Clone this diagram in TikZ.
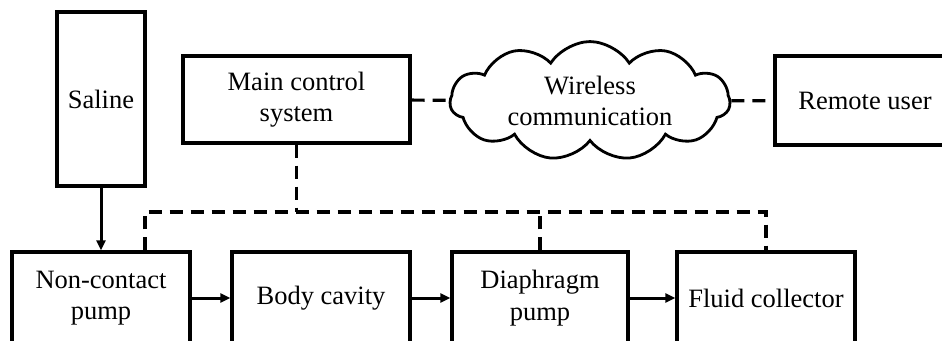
\documentclass[tikz,border=0pt]{standalone}
\usepackage{fontspec}
\setmainfont{Liberation Serif}
\usetikzlibrary{shapes.symbols,arrows.meta}
\begin{document}
\begin{tikzpicture}[x=1pt,y=-1pt,
  every node/.style={font=\fontsize{26.5}{31.5}\selectfont, align=center, inner sep=0pt},
  box/.style={draw, line width=3.2pt, rectangle},
  flow/.style={line width=3pt, -{Triangle[length=10pt,width=9pt]}},
  ctl/.style={line width=3.2pt, dash pattern=on 13pt off 8pt},
]
\clip (0,0) rectangle (942,340);
\useasboundingbox (0,0) rectangle (942,340);
\node[box, minimum width=88pt, minimum height=174pt] (saline) at (101,99) {Saline};
\node[box, minimum width=227pt, minimum height=87pt] (main) at (296.5,99.5) {Main control\\system};
\node[draw, line width=2.8pt, cloud, cloud puffs=11, cloud puff arc=115, aspect=2.7, minimum width=280pt, minimum height=104pt] (cloud) at (590,101) {Wireless\\communication};
\node[box, minimum width=180pt, minimum height=89pt] (remote) at (865,100.5) {Remote user};
\node[box, minimum width=178pt, minimum height=92pt] (ncp) at (101,298) {Non-contact\\pump};
\node[box, minimum width=178pt, minimum height=92pt] (body) at (321,298) {Body cavity};
\node[box, minimum width=176pt, minimum height=92pt] (diaph) at (540,298) {Diaphragm\\pump};
\node[box, minimum width=178pt, minimum height=92pt] (fluid) at (766,298) {Fluid collector};
\coordinate (b1) at (145,212);
\coordinate (b2) at (766,212);
\draw[flow] (saline) -- (ncp);
\draw[flow] (ncp) -- (body);
\draw[flow] (body) -- (diaph);
\draw[flow] (diaph) -- (fluid);
\draw[ctl] (main) -- (cloud);
\draw[ctl] (cloud) -- (remote);
\draw[ctl] (ncp.north -| b1) -- (b1) -- (b2) -- (fluid.north);
\draw[ctl] (main.south) -- (main.south |- b1);
\draw[ctl] (diaph.north) -- (diaph.north |- b1);
\end{tikzpicture}
\end{document}
